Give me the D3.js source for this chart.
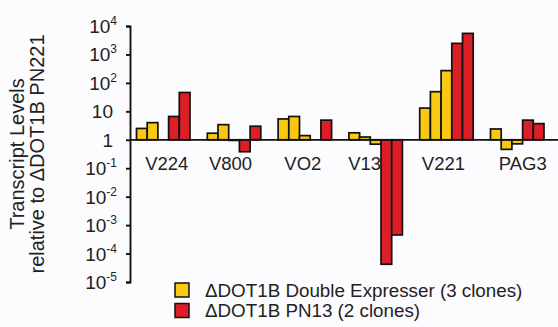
<!DOCTYPE html>
<html><head><meta charset="utf-8">
<script src="https://cdn.jsdelivr.net/npm/d3@7"></script>
<style>
html,body{margin:0;padding:0;background:#fcfcfe;}
svg{display:block;font-family:"Liberation Sans",Arial,Helvetica,sans-serif;}
</style></head>
<body>
<svg id="c" width="558" height="327"></svg>
<script>
const categories = ["V224","V800","VO2","V13","V221","PAG3"];
const doubleExpresser = [
  [2.5, 4.0, 1],
  [1.7, 3.4, 0.95],
  [5.4, 6.6, 1.4],
  [1.76, 1.25, 0.7],
  [13, 49, 270],
  [2.4, 0.46, 0.72]
];
const pn13 = [
  [6.6, 46],
  [0.38, 3.0],
  [1, 4.9],
  [4.2e-5, 4.5e-4],
  [2450, 5500],
  [4.9, 3.7]
];
const tickValues = [1e4,1e3,1e2,10,1,1e-1,1e-2,1e-3,1e-4,1e-5];
const tickLabels = [["10","4"],["10","3"],["10","2"],["10",""],["1",""],["10","-1"],["10","-2"],["10","-3"],["10","-4"],["10","-5"]];
const seriesNames = ["\u0394DOT1B Double Expresser (3 clones)","\u0394DOT1B PN13 (2 clones)"];
const labelDx = [3.5,-3.5,-2,-11,-3,5.5];

const colors = ["#f8c812","#dc1f26"];
const svg = d3.select("#c");

const y = d3.scaleLog().domain([1e-5,1e4]).range([282,26]);
const x = d3.scaleBand().domain(categories).range([136.5,136.5+6*70.8]).paddingInner(0).paddingOuter(0);
const xs = d3.scaleBand().domain(d3.range(5)).range([0,53.5]);

// bars
const bars = [];
categories.forEach((c,i)=>{
  doubleExpresser[i].forEach((v,j)=>bars.push({c,slot:j,v,s:0}));
  pn13[i].forEach((v,j)=>bars.push({c,slot:3+j,v,s:1}));
});
svg.append("g").selectAll("rect").data(bars.filter(d=>d.v!==1)).join("rect")
  .attr("x",d=>x(d.c)+xs(d.slot))
  .attr("width",xs.bandwidth())
  .attr("y",d=>Math.min(y(d.v),y(1)))
  .attr("height",d=>Math.abs(y(d.v)-y(1)))
  .attr("fill",d=>colors[d.s])
  .attr("stroke","#111").attr("stroke-width",1.7);

// baseline
svg.append("line").attr("x1",130).attr("x2",558).attr("y1",y(1)).attr("y2",y(1))
  .attr("stroke","#111").attr("stroke-width",1.7);

// y axis
const axis = d3.axisLeft(y).tickValues(tickValues).tickSize(4).tickFormat("");
const ag = svg.append("g").attr("transform","translate(130,0)").call(axis);
ag.select(".domain").attr("stroke","#111").attr("stroke-width",1.9);
ag.selectAll(".tick line").attr("stroke","#111").attr("stroke-width",1.9);

const tl = svg.append("g").selectAll("text").data(tickValues).join("text")
  .attr("x",d=>(tickLabels[tickValues.indexOf(d)][1]? 117:113))
  .attr("y",d=>y(d)+7)
  .attr("text-anchor","end")
  .attr("font-size",19).attr("fill","#222");
tl.each(function(d,i){
  const t=d3.select(this); const [b,s]=tickLabels[i];
  t.append("tspan").text(b);
  if(s){ t.append("tspan").attr("dy",-8).attr("font-size",12).text(s); }
});

// category labels
svg.append("g").selectAll("text").data(categories).join("text")
  .attr("x",(d,i)=>x(d)+53.5/2+labelDx[i])
  .attr("y",169.5).attr("text-anchor","middle").attr("font-size",18.5).attr("fill","#222")
  .text(d=>d);

// y title
const yt = svg.append("text").attr("transform","translate(0,154) rotate(-90)")
  .attr("text-anchor","middle").attr("font-size",20).attr("fill","#222");
yt.append("tspan").attr("x",0).attr("y",24).text("Transcript Levels");
yt.append("tspan").attr("x",0).attr("y",44).text("relative to \u0394DOT1B PN221");

// legend
const lg = svg.append("g").selectAll("g").data(seriesNames).join("g")
  .attr("transform",(d,i)=>`translate(175,${283+i*20.5})`);
lg.append("rect").attr("width",14).attr("height",14)
  .attr("fill",(d,i)=>colors[i]).attr("stroke","#111").attr("stroke-width",1.5);
lg.append("text").attr("x",30).attr("y",13.5).attr("font-size",18.8).attr("fill","#222").text(d=>d);
</script>
</body></html>
